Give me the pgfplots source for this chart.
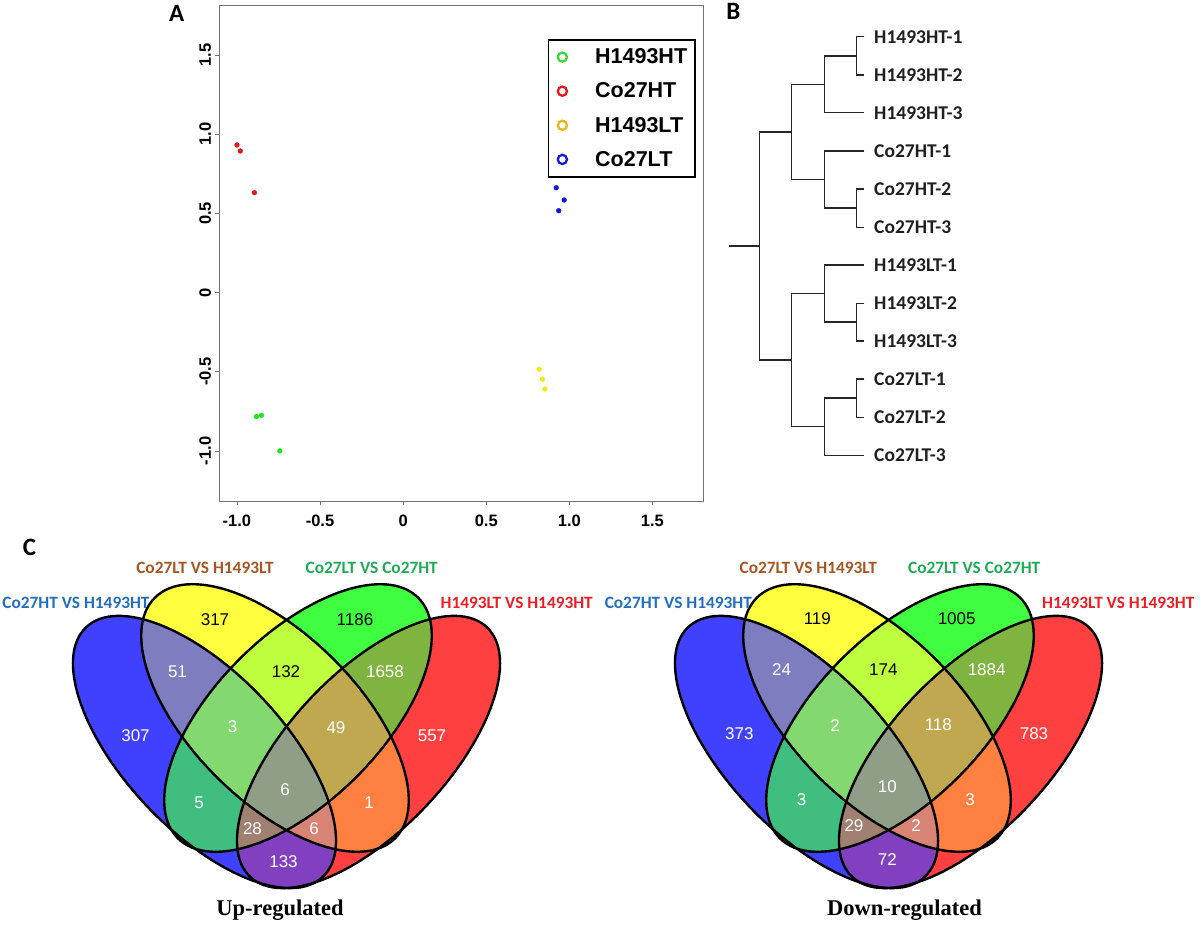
\documentclass[border=0pt]{standalone}
\usepackage{fontspec}
\setmainfont{Liberation Sans}
\newfontfamily\carlito{Carlito}
\newfontfamily\tnr{Liberation Serif}
\usepackage{pgfplots}
\pgfplotsset{compat=1.18}

\definecolor{ptR}{RGB}{225,25,30}
\definecolor{ptG}{RGB}{30,230,30}
\definecolor{ptY}{RGB}{240,235,20}
\definecolor{ptB}{RGB}{20,20,220}
\definecolor{lgG}{RGB}{60,215,60}
\definecolor{lgR}{RGB}{225,25,25}
\definecolor{lgY}{RGB}{240,180,25}
\definecolor{lgB}{RGB}{25,25,220}
\definecolor{vB}{RGB}{64,64,255}
\definecolor{vY}{RGB}{255,255,64}
\definecolor{vG}{RGB}{64,255,64}
\definecolor{vR}{RGB}{255,64,64}
\definecolor{vBY}{RGB}{125,125,192}
\definecolor{vBG}{RGB}{64,190,128}
\definecolor{vBR}{RGB}{128,64,192}
\definecolor{vYG}{RGB}{190,255,64}
\definecolor{vYR}{RGB}{255,128,64}
\definecolor{vGR}{RGB}{128,180,64}
\definecolor{vBYG}{RGB}{132,216,112}
\definecolor{vYGR}{RGB}{192,168,80}
\definecolor{vBGR}{RGB}{160,128,112}
\definecolor{vBYR}{RGB}{216,132,116}
\definecolor{vAll}{RGB}{144,158,136}
\definecolor{tBrown}{RGB}{165,85,35}
\definecolor{tGreen}{RGB}{30,170,85}
\definecolor{tBlue}{RGB}{35,110,190}
\definecolor{tRed}{RGB}{235,30,40}

\newcommand\tickfont{\fontsize{16.5bp}{19bp}\selectfont\bfseries}
\newcommand\legfont{\fontsize{21.5bp}{25bp}\selectfont\bfseries}
\newcommand\panelfont{\carlito\fontsize{25bp}{30bp}\selectfont\bfseries}
\newcommand\dfont{\carlito\fontsize{19.5bp}{23bp}\selectfont\bfseries}
\newcommand\sfont{\carlito\fontsize{17.3bp}{20bp}\selectfont\bfseries}
\newcommand\nfont{\fontsize{17bp}{20bp}\selectfont}
\newcommand\tfont{\tnr\fontsize{22.5bp}{26bp}\selectfont\bfseries}

\tikzset{
 eB/.style={rotate around={-46.5:(204.5bp,175bp)}},
 eY/.style={rotate around={-45:(275bp,209bp)}},
 eG/.style={rotate around={45:(298bp,209bp)}},
 eR/.style={rotate around={46.5:(368.5bp,175bp)}},
}
\def\pB{(204.5bp,175bp) ellipse [x radius=172bp, y radius=79bp]}
\def\pY{(275bp,209bp) ellipse [x radius=170bp, y radius=83bp]}
\def\pG{(298bp,209bp) ellipse [x radius=170bp, y radius=83bp]}
\def\pR{(368.5bp,175bp) ellipse [x radius=172bp, y radius=79bp]}

\newcommand\VennShapes{%
 \fill[vB,eB]\pB; \fill[vY,eY]\pY; \fill[vG,eG]\pG; \fill[vR,eR]\pR;
 \begin{scope}\clip[eB]\pB; \fill[vBY,eY]\pY; \end{scope}
 \begin{scope}\clip[eB]\pB; \fill[vBG,eG]\pG; \end{scope}
 \begin{scope}\clip[eB]\pB; \fill[vBR,eR]\pR; \end{scope}
 \begin{scope}\clip[eY]\pY; \fill[vYG,eG]\pG; \end{scope}
 \begin{scope}\clip[eY]\pY; \fill[vYR,eR]\pR; \end{scope}
 \begin{scope}\clip[eG]\pG; \fill[vGR,eR]\pR; \end{scope}
 \begin{scope}\clip[eB]\pB; \clip[eY]\pY; \fill[vBYG,eG]\pG; \end{scope}
 \begin{scope}\clip[eB]\pB; \clip[eY]\pY; \fill[vBYR,eR]\pR; \end{scope}
 \begin{scope}\clip[eB]\pB; \clip[eG]\pG; \fill[vBGR,eR]\pR; \end{scope}
 \begin{scope}\clip[eY]\pY; \clip[eG]\pG; \fill[vYGR,eR]\pR; \end{scope}
 \begin{scope}\clip[eB]\pB; \clip[eY]\pY; \clip[eG]\pG; \fill[vAll,eR]\pR; \end{scope}
 \draw[line width=2.4bp,eB]\pB; \draw[line width=2.4bp,eY]\pY;
 \draw[line width=2.4bp,eG]\pG; \draw[line width=2.4bp,eR]\pR;
}

\begin{document}
\begin{tikzpicture}
\path[use as bounding box] (0bp,0bp) rectangle (1200bp,927bp);

% Venn diagrams (panel C)
\VennShapes
\begin{scope}[xshift=602bp]
\VennShapes
\end{scope}

% master axis in pixel units (y downwards) for panels B and C
\begin{axis}[at={(0bp,0bp)}, anchor=south west, scale only axis,
  width=1200bp, height=927bp, xmin=0, xmax=1200, ymin=0, ymax=927,
  y dir=reverse, hide axis, clip=false]
% dendrogram (panel B)
\pgfplotsset{dend/.style={black!85, line width=1.5bp, mark=none, solid}}
\addplot[dend] coordinates {(864.3,36.7) (856.7,36.7) (856.7,75) (864.3,75)};
\addplot[dend] coordinates {(856.7,55.8) (824.3,55.8) (824.3,112.7) (864.3,112.7)};
\addplot[dend] coordinates {(864.3,189) (856.7,189) (856.7,227.3) (864.3,227.3)};
\addplot[dend] coordinates {(864.3,151) (824.3,151) (824.3,208.2) (856.7,208.2)};
\addplot[dend] coordinates {(824.3,84.3) (791.7,84.3) (791.7,179.6) (824.3,179.6)};
\addplot[dend] coordinates {(864.3,303.3) (856.7,303.3) (856.7,341) (864.3,341)};
\addplot[dend] coordinates {(864.3,265) (824.3,265) (824.3,322.2) (856.7,322.2)};
\addplot[dend] coordinates {(864.3,379) (856.7,379) (856.7,417.3) (864.3,417.3)};
\addplot[dend] coordinates {(856.7,398.2) (824.3,398.2) (824.3,455.3) (864.3,455.3)};
\addplot[dend] coordinates {(824.3,293.6) (791.7,293.6) (791.7,426.7) (824.3,426.7)};
\addplot[dend] coordinates {(791.7,132) (759.3,132) (759.3,360.2) (791.7,360.2)};
\addplot[dend] coordinates {(729.3,246) (759.3,246)};
\foreach \lab/\yy in {H1493HT-1/36.7, H1493HT-2/75, H1493HT-3/112.7, Co27HT-1/151, Co27HT-2/189, Co27HT-3/227.3, H1493LT-1/265, H1493LT-2/303.3, H1493LT-3/341, Co27LT-1/379, Co27LT-2/417.3, Co27LT-3/455.3}{
  \edef\tmp{\noexpand\node[anchor=west, font=\noexpand\dfont, text=black!88, inner sep=0pt] at (axis cs:874,\yy) {\lab};}\tmp
}
% panel letters
\node[font=\panelfont] at (axis cs:176.7,13.3) {A};
\node[font=\panelfont] at (axis cs:733.3,11.7) {B};
\node[font=\panelfont] at (axis cs:29.6,547.3) {C};
% set names
\node[font=\sfont, text=tBrown] at (axis cs:205,567.7) {Co27LT VS H1493LT};
\node[font=\sfont, text=tGreen] at (axis cs:371.7,567.7) {Co27LT VS Co27HT};
\node[font=\sfont, text=tBlue] at (axis cs:76,602.7) {Co27HT VS H1493HT};
\node[font=\sfont, text=tRed] at (axis cs:516.7,602.7) {H1493LT VS H1493HT};
\node[font=\sfont, text=tBrown] at (axis cs:808.3,567.7) {Co27LT VS H1493LT};
\node[font=\sfont, text=tGreen] at (axis cs:974.2,567.7) {Co27LT VS Co27HT};
\node[font=\sfont, text=tBlue] at (axis cs:678.3,602.7) {Co27HT VS H1493HT};
\node[font=\sfont, text=tRed] at (axis cs:1118.3,602.7) {H1493LT VS H1493HT};
\node[font=\tfont, anchor=base] at (axis cs:280,915.5) {Up-regulated};
\node[font=\tfont, anchor=base] at (axis cs:904.5,915.5) {Down-regulated};
% Venn counts
\addplot[only marks, mark=none, point meta=explicit symbolic, nodes near coords,
  nodes near coords style={anchor=center, font=\nfont, text=black, inner sep=0pt}]
  table[meta=n] {
x y n
215 620 317
355 620 1186
286 671.7 132
817.3 619 119
956.7 619 1005
883.3 670 174
};
\addplot[only marks, mark=none, point meta=explicit symbolic, nodes near coords,
  nodes near coords style={anchor=center, font=\nfont, text=white, inner sep=0pt}]
  table[meta=n] {
x y n
177.5 671.7 51
385 671.7 1658
135.5 736 307
432 736 557
232.5 726.7 3
336 727.3 49
285 790 6
199 802.7 5
369 802.7 1
252.5 829 28
314 829 6
283.5 861.7 133
781.7 670 24
986.7 670 1884
739.3 733.3 373
1034 733.3 783
835 726 2
938.3 725 118
887.3 786.7 10
801.7 799.3 3
970 799.3 3
854 825.7 29
916 825.7 2
887.3 860 72
};
\end{axis}

% panel A: PCA scatter
\begin{axis}[at={(219bp,426bp)}, anchor=south west, scale only axis,
  width=484.6bp, height=496bp,
  xmin=-1.108, xmax=1.808, ymin=-1.316, ymax=1.816,
  axis line style={black!55, line width=0.9bp},
  xtick={-1,-0.5,0,0.5,1,1.5}, xticklabels={-1.0,-0.5,0,0.5,1.0,1.5},
  ytick={-1,-0.5,0,0.5,1,1.5}, yticklabels={-1.0,-0.5,0,0.5,1.0,1.5},
  tick align=outside, tick pos=left, major tick length=4.5bp,
  tick style={black!55, line width=0.9bp},
  ticklabel style={font=\tickfont},
  xticklabel style={yshift=-6bp},
  yticklabel style={rotate=90, anchor=south},
  clip=false,
  legend style={at={(1,1)}, anchor=north east, xshift=-7.6bp, yshift=-34bp,
    draw=black, line width=1.7bp, fill=white, inner xsep=8bp, inner ysep=9bp,
    font=\legfont, row sep=17.6bp, nodes={inner sep=0pt},
    /tikz/every odd column/.append style={column sep=27bp}},
  legend cell align=left]
\addplot[only marks, mark=*, mark size=2.4bp, ptR, forget plot] coordinates {(-1.0,0.932) (-0.98,0.894) (-0.895,0.631)};
\addplot[only marks, mark=*, mark size=2.4bp, ptG, forget plot] coordinates {(-0.883,-0.783) (-0.853,-0.775) (-0.742,-1.0)};
\addplot[only marks, mark=*, mark size=2.4bp, ptB, forget plot] coordinates {(0.921,0.662) (0.969,0.585) (0.936,0.517)};
\addplot[only marks, mark=*, mark size=2.4bp, ptY, forget plot] coordinates {(0.819,-0.484) (0.838,-0.547) (0.853,-0.609)};
\addlegendimage{legend image code/.code={\draw[lgG, line width=2.3bp] (4.6bp,0bp) circle [radius=4.6bp];}}
\addlegendentry{H1493HT}
\addlegendimage{legend image code/.code={\draw[lgR, line width=2.3bp] (4.6bp,0bp) circle [radius=4.6bp];}}
\addlegendentry{Co27HT}
\addlegendimage{legend image code/.code={\draw[lgY, line width=2.3bp] (4.6bp,0bp) circle [radius=4.6bp];}}
\addlegendentry{H1493LT}
\addlegendimage{legend image code/.code={\draw[lgB, line width=2.3bp] (4.6bp,0bp) circle [radius=4.6bp];}}
\addlegendentry{Co27LT}
\end{axis}
\end{tikzpicture}
\end{document}
